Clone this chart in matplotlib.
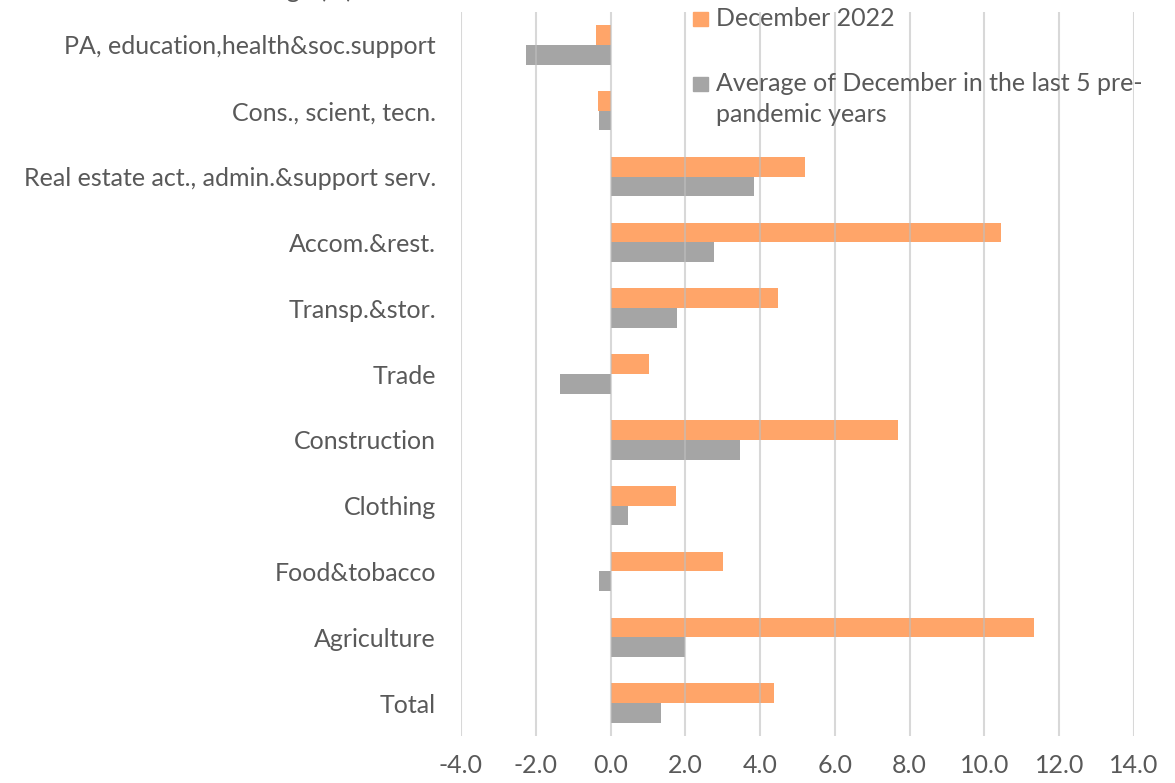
import matplotlib
matplotlib.use("Agg")
import matplotlib.pyplot as plt
from matplotlib.patches import Rectangle
import numpy as np

categories = ["Total", "Agriculture", "Food&tobacco", "Clothing", "Construction",
              "Trade", "Transp.&stor.", "Accom.&rest.",
              "Real estate act., admin.&support serv.", "Cons., scient, tecn.",
              "PA, education,health&soc.support"]
dec_2022 = [4.38, 11.33, 3.0, 1.76, 7.68, 1.03, 4.49, 10.44, 5.21, -0.34, -0.38]
avg_5y = [1.36, 1.99, -0.30, 0.46, 3.47, -1.36, 1.78, 2.78, 3.84, -0.30, -2.27]
x_ticks = [-4, -2, 0, 2, 4, 6, 8, 10, 12, 14]

orange = "#FFA569"
grey = "#A5A5A5"
text_col = "#595959"
plt.rcParams["font.family"] = ["Lato", "DejaVu Sans"]
fs = 18

W, H = 1175, 783
fig = plt.figure(figsize=(W / 100, H / 100), dpi=100)
ax = fig.add_axes([461 / W, 1 - 736 / H, (1134 - 461) / W, (736 - 12) / H])

y = np.arange(len(categories))
h = 0.3
ax.barh(y + h / 2, dec_2022, height=h, color=orange, zorder=2)
ax.barh(y - h / 2, avg_5y, height=h, color=grey, zorder=2)

ax.set_xlim(-4, 14)
ax.set_ylim(-0.5, len(categories) - 0.5)
ax.set_xticks(x_ticks)
ax.set_xticklabels([f"{v:.1f}" for v in x_ticks])
ax.set_yticks(y)
ax.set_yticklabels(categories)
ax.tick_params(axis="both", length=0, labelsize=fs, labelcolor=text_col)
ax.tick_params(axis="x", pad=13)
ax.tick_params(axis="y", pad=18)
for s in ax.spines.values():
    s.set_visible(False)
ax.grid(axis="x", color="#BFBFBF", linewidth=1.5, alpha=0.6, zorder=3)
ax.set_axisbelow(False)

# legend drawn by hand to keep Excel-like layout
fig.add_artist(Rectangle((693 / W, 1 - 26 / H), 15 / W, 14 / H,
                         transform=fig.transFigure, color=orange))
fig.text(716 / W, 1 - 26 / H, "December 2022", fontsize=fs, color=text_col, va="baseline")
fig.add_artist(Rectangle((693 / W, 1 - 91 / H), 15 / W, 14 / H,
                         transform=fig.transFigure, color=grey))
fig.text(716 / W, 1 - 91 / H, "Average of December in the last 5 pre-",
         fontsize=fs, color=text_col, va="baseline")
fig.text(716 / W, 1 - 122 / H, "pandemic years",
         fontsize=fs, color=text_col, va="baseline")

# title cut off at the top edge of the picture
fig.text(353 / W, 1 + 2 / H, "Change (%)", fontsize=fs, color=text_col,
         ha="right", va="baseline")

fig.savefig("out.png", dpi=100)
